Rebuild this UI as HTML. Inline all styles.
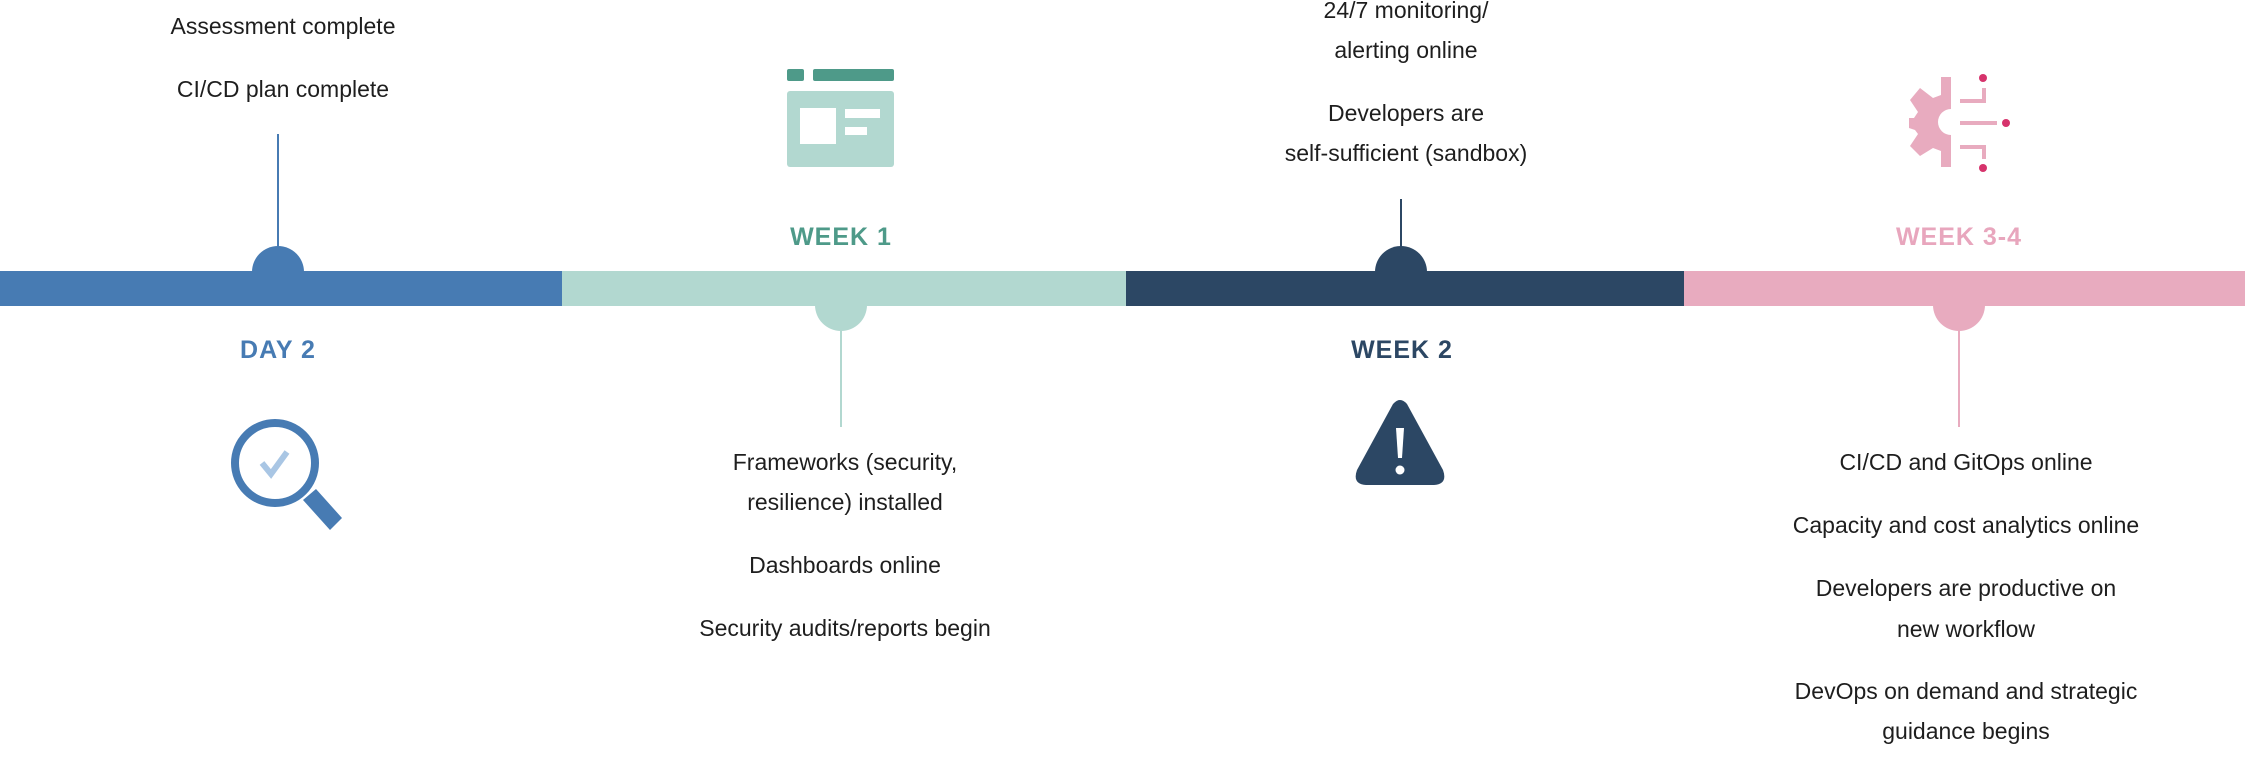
<!DOCTYPE html>
<html><head><meta charset="utf-8"><style>
html,body{margin:0;padding:0;background:#fff;}
svg{display:block}
text{font-family:"Liberation Sans",sans-serif;}
.b{font-size:23px;fill:#1e1e1e;text-anchor:middle;dominant-baseline:central}
.h{font-size:25px;font-weight:bold;text-anchor:middle;dominant-baseline:central;letter-spacing:1px}
</style></head><body>
<svg width="2261" height="764" viewBox="0 0 2261 764">
<rect x="0" y="271" width="562" height="35" fill="#477bb3"/>
<rect x="562" y="271" width="564" height="35" fill="#b2d8d0"/>
<rect x="1126" y="271" width="558" height="35" fill="#2c4764"/>
<rect x="1684" y="271" width="561" height="35" fill="#e8abbf"/>
<path d="M252 272 A26 26 0 0 1 304 272 Z" fill="#477bb3"/>
<path d="M815 305 A26 26 0 0 0 867 305 Z" fill="#b2d8d0"/>
<path d="M1375 272 A26 26 0 0 1 1427 272 Z" fill="#2c4764"/>
<path d="M1933 305 A26 26 0 0 0 1985 305 Z" fill="#e8abbf"/>
<line x1="278" y1="134" x2="278" y2="250" stroke="#477bb3" stroke-width="2"/>
<line x1="841" y1="330" x2="841" y2="427" stroke="#b2d8d0" stroke-width="2"/>
<line x1="1401" y1="199" x2="1401" y2="250" stroke="#2c4764" stroke-width="2"/>
<line x1="1959" y1="330" x2="1959" y2="427" stroke="#e8abbf" stroke-width="2"/>
<text class="h" x="278" y="350" fill="#477bb3">DAY 2</text>
<text class="h" x="841" y="237" fill="#4e9a89">WEEK 1</text>
<text class="h" x="1402" y="350" fill="#2c4764">WEEK 2</text>
<text class="h" x="1959" y="237" fill="#e8a6bd">WEEK 3-4</text>
<text class="b" x="283" y="26">Assessment complete</text>
<text class="b" x="283" y="89">CI/CD plan complete</text>
<text class="b" x="845" y="462">Frameworks (security,</text>
<text class="b" x="845" y="502">resilience) installed</text>
<text class="b" x="845" y="565">Dashboards online</text>
<text class="b" x="845" y="628">Security audits/reports begin</text>
<text class="b" x="1406" y="10">24/7 monitoring/</text>
<text class="b" x="1406" y="50">alerting online</text>
<text class="b" x="1406" y="113">Developers are</text>
<text class="b" x="1406" y="153">self-sufficient (sandbox)</text>
<text class="b" x="1966" y="462">CI/CD and GitOps online</text>
<text class="b" x="1966" y="525">Capacity and cost analytics online</text>
<text class="b" x="1966" y="588">Developers are productive on</text>
<text class="b" x="1966" y="629">new workflow</text>
<text class="b" x="1966" y="691">DevOps on demand and strategic</text>
<text class="b" x="1966" y="731">guidance begins</text>
<rect x="787" y="69" width="17" height="12" rx="2" fill="#4e9a89"/>
<rect x="813" y="69" width="81" height="12" rx="2" fill="#4e9a89"/>
<rect x="787" y="91" width="107" height="76" rx="3" fill="#b2d8d0"/>
<rect x="800" y="108" width="36" height="36" fill="#fff"/>
<rect x="845" y="109" width="35" height="9" fill="#fff"/>
<rect x="845" y="127" width="22" height="8" fill="#fff"/>
<circle cx="275" cy="463" r="40" fill="none" stroke="#477bb3" stroke-width="8"/>
<path d="M262 463 L271 474 L287 452" fill="none" stroke="#a9c6e4" stroke-width="6"/>
<path d="M303 500 L316 489 L342 518 L330 530 Z" fill="#477bb3"/>
<path d="M1393 404 Q1400 396 1407 404 L1443 470 Q1448 484 1434 485 L1366 485 Q1352 484 1357 470 Z" fill="#2c4764"/>
<path d="M1396 428 L1404 428 L1402 458 L1398 458 Z" fill="#fff"/>
<circle cx="1400" cy="470" r="4.5" fill="#fff"/>
<path d="M1951 77 L1941 77 L1941 95 L1933 98 L1920 88 L1910 100 L1918 112 L1914 118 L1909 118 L1909 128 L1915 130 L1918 134 L1910 146 L1920 156 L1933 148 L1941 151 L1941 167 L1951 167 L1951 135 A13 13 0 0 1 1951 109 Z" fill="#e8abbf"/>
<g fill="none" stroke="#e8abbf" stroke-width="4">
<path d="M1960 101 L1984 101 L1984 88"/>
<path d="M1960 123 L1997 123"/>
<path d="M1960 147 L1984 147 L1984 159"/>
</g>
<g fill="#d6336c">
<circle cx="1983" cy="78" r="4"/>
<circle cx="2006" cy="123" r="4"/>
<circle cx="1983" cy="168" r="4"/>
</g>
</svg>
</body></html>
